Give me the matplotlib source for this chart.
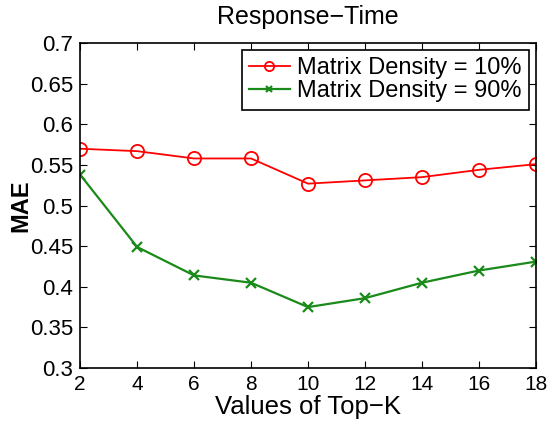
import matplotlib
matplotlib.use('Agg')
import matplotlib.pyplot as plt

top_k = [2, 4, 6, 8, 10, 12, 14, 16, 18]
density_10 = [0.570, 0.567, 0.558, 0.558, 0.527, 0.531, 0.535, 0.544, 0.551]
density_90 = [0.538, 0.449, 0.414, 0.405, 0.375, 0.386, 0.405, 0.420, 0.431]

plt.rcParams['font.family'] = ['Liberation Sans', 'DejaVu Sans']
plt.rcParams['font.size'] = 12

fig = plt.figure(figsize=(5.53, 4.23), dpi=100)
ax = fig.add_axes([0.145, 0.130, 0.824, 0.768])

ax.plot(top_k, density_10, color='red', marker='o', markersize=9.5,
        markerfacecolor='none', markeredgewidth=1.3, linewidth=1.3,
        label='Matrix Density = 10%')
ax.plot(top_k, density_90, color='#1a8a1a', marker='x', markersize=7,
        markeredgewidth=1.6, linewidth=1.6,
        label='Matrix Density = 90%')

ax.set_xlim(2, 18)
ax.set_ylim(0.3, 0.7)
ax.set_xticks(top_k)
ax.set_yticks([0.3, 0.35, 0.4, 0.45, 0.5, 0.55, 0.6, 0.65, 0.7])
ax.set_yticklabels(['0.3', '0.35', '0.4', '0.45', '0.5', '0.55', '0.6', '0.65', '0.7'])
ax.tick_params(direction='in', top=True, right=True, length=5, labelsize=15)
ax.tick_params(axis='x', pad=5)
ax.tick_params(axis='y', pad=5, labelsize=16)
for s in ax.spines.values():
    s.set_linewidth(1.2)

ax.set_xlabel('Values of Top\u2212K', fontsize=18.5, labelpad=1)
ax.set_ylabel('MAE', fontsize=17, fontweight='bold', labelpad=-2)
ax.set_title('Response\u2212Time', fontsize=18, pad=14)

leg = ax.legend(loc='upper right', fontsize=17, fancybox=False, edgecolor='black',
                framealpha=1, borderpad=0.3, handlelength=1.75, handletextpad=0.3,
                labelspacing=0.05, borderaxespad=0.3, markerscale=0.7)
leg.get_frame().set_linewidth(1.2)

fig.savefig('out.png', dpi=100)
